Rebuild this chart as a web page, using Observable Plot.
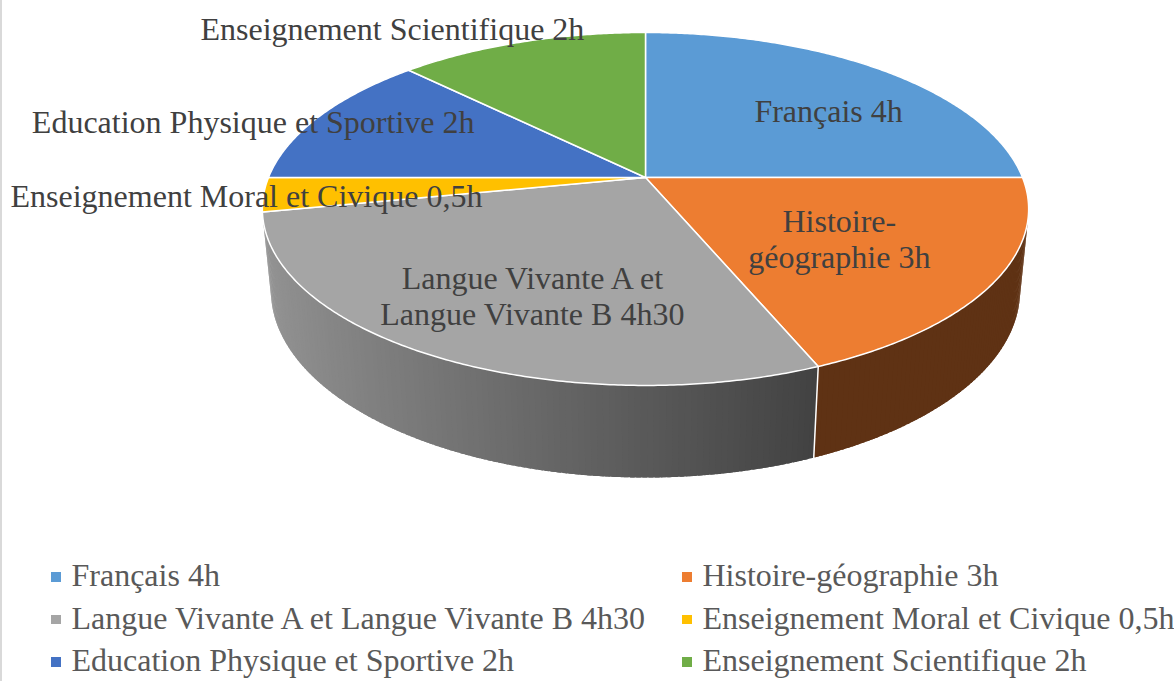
<!DOCTYPE html>
<html><head><meta charset="utf-8">
<script src="https://cdn.jsdelivr.net/npm/d3@7"></script>
<script src="https://cdn.jsdelivr.net/npm/@observablehq/plot@0.6"></script>
<style>
body{margin:0;background:#fff;width:1174px;height:681px;overflow:hidden;position:relative;font-family:"Liberation Serif","Times New Roman",serif;}
#frame{position:absolute;left:0;top:0;width:2px;height:681px;background:#d9d9d9;}
#legend{display:grid;grid-template-columns:631px 1fr;padding-left:51px;padding-top:14px;}
.item{display:flex;align-items:center;height:42.5px;line-height:42.5px;font-size:32px;color:#595959;white-space:nowrap;}
.sw{width:9.5px;height:9.5px;margin-right:11px;flex:none;position:relative;top:1.5px;}
</style></head><body>
<div id="chart"></div><div id="legend"></div><div id="frame"></div>
<script>
// ---- data ----
const subjects = ["Français 4h", "Histoire-géographie 3h", "Langue Vivante A et Langue Vivante B 4h30", "Enseignement Moral et Civique 0,5h", "Education Physique et Sportive 2h", "Enseignement Scientifique 2h"];
const hours = [4, 3, 4.5, 0.5, 2, 2];
const colors = ["#5B9BD5", "#ED7D31", "#A5A5A5", "#FFC000", "#4472C4", "#70AD47"];
const sliceLabels = ["Français 4h", "Histoire-\ngéographie 3h", "Langue Vivante A et\nLangue Vivante B 4h30", "Enseignement Moral et Civique 0,5h", "Education Physique et Sportive 2h", "Enseignement Scientifique 2h"];

// ---- layout (3D view) ----
const sinA = 0.4532, cosA = Math.sqrt(1 - sinA * sinA);
const RD = 0.2001;      // radius / camera distance
const H = 0.245;        // pie thickness / radius
const labelShift = [6.1, 0.95, -4.6, -0.1, -5, -15.1];
const labelRadius = [0.671, 0.588, 0.6695, 1.044, 1.159, 1.303];

function proj(deg, r, Y) {
  const t = deg * Math.PI / 180;
  const X = r * Math.sin(t), Z = -r * Math.cos(t);
  const depth = 1 - RD * (Z * cosA + Y * sinA);
  return [X / depth, (Z * sinA - Y * cosA) / depth];
}
function shade(c, f) {
  const k = d3.rgb(c);
  return d3.rgb(k.r * f, k.g * f, k.b * f).formatHex();
}
function sideFactor(deg) {
  const s = Math.sin(deg * Math.PI / 180);
  return Math.max(0.4, Math.min(0.9, 0.4 + 0.5 * (0.383 - s) / 1.357));
}

const total = d3.sum(hours);
const starts = [];
let acc = 0;
for (const h of hours) { starts.push(acc / total * 360); acc += h; }
const ends = hours.map((h, i) => starts[i] + h / total * 360);

// top faces
const topRows = [];
subjects.forEach((s, i) => {
  const [cx, cy] = proj(0, 0, 0);
  topRows.push({id: "t" + i, x: cx, y: cy, fill: colors[i]});
  const n = Math.max(2, Math.ceil((ends[i] - starts[i]) / 0.5));
  for (let j = 0; j <= n; j++) {
    const a = starts[i] + (ends[i] - starts[i]) * j / n;
    const [x, y] = proj(a, 1, 0);
    topRows.push({id: "t" + i, x, y, fill: colors[i]});
  }
});

// side walls (thin strips, overlapping to avoid seams)
const thMin = Math.acos(-RD / cosA) * 180 / Math.PI, thMax = 360 - thMin;
const wallRows = [];
subjects.forEach((s, i) => {
  const b0 = Math.max(starts[i], thMin), b1 = Math.min(ends[i], thMax);
  if (b1 <= b0) return;
  const n = Math.ceil((b1 - b0) / 0.8);
  for (let j = 0; j < n; j++) {
    const t0 = b0 + (b1 - b0) * j / n;
    const t1 = Math.min(b1, b0 + (b1 - b0) * (j + 1) / n + 0.6);
    const fill = shade(colors[i], sideFactor(b0 + (b1 - b0) * (j + 0.5) / n));
    const id = "w" + i + "_" + j;
    const pts = [];
    const m = 4;
    for (let k = 0; k <= m; k++) pts.push([t0 + (t1 - t0) * k / m, 0]);
    for (let k = m; k >= 0; k--) pts.push([t0 + (t1 - t0) * k / m, -H]);
    for (const [a, Y] of pts) {
      const [x, y] = proj(a, 1, Y);
      wallRows.push({id, x, y, fill});
    }
  }
});
const edgeRows = [];
starts.forEach((a, i) => {
  if (a > thMin && a < thMax) {
    for (const Y of [0, -H]) { const [x, y] = proj(a, 1, Y); edgeRows.push({id: "e" + i, x, y}); }
  }
});

// labels
const labelRows = subjects.map((s, i) => {
  const mid = (starts[i] + ends[i]) / 2 + labelShift[i];
  const [x, y] = proj(mid, labelRadius[i], 0);
  return {x, y, text: sliceLabels[i]};
});

const K = 377, CX = 645, CY = 177, W = 1174, HGT = 540;
const chart = Plot.plot({
  width: W, height: HGT,
  margin: 0,
  x: {domain: [-CX / K, (W - CX) / K], axis: null},
  y: {domain: [(HGT - CY) / K, -CY / K], axis: null},
  color: {type: "identity"},
  style: {fontFamily: "'Liberation Serif','Times New Roman',serif", background: "transparent"},
  marks: [
    Plot.line(wallRows, {x: "x", y: "y", z: "id", fill: "fill", stroke: "none", curve: "linear-closed"}),
    Plot.line(edgeRows, {x: "x", y: "y", z: "id", stroke: "white", strokeWidth: 1.5}),
    Plot.line(topRows, {x: "x", y: "y", z: "id", fill: "fill", stroke: "white", strokeWidth: 1.5, strokeLinejoin: "round", curve: "linear-closed"}),
    Plot.text(labelRows, {x: "x", y: "y", text: "text", fontSize: 32, fill: "#404040", lineHeight: 1.125, fontFamily: "'Liberation Serif','Times New Roman',serif"})
  ]
});
document.getElementById("chart").appendChild(chart);

const legend = document.getElementById("legend");
subjects.forEach((s, i) => {
  const item = document.createElement("div");
  item.className = "item";
  const sw = document.createElement("span");
  sw.className = "sw";
  sw.style.background = colors[i];
  item.appendChild(sw);
  item.appendChild(document.createTextNode(s));
  legend.appendChild(item);
});
</script></body></html>
